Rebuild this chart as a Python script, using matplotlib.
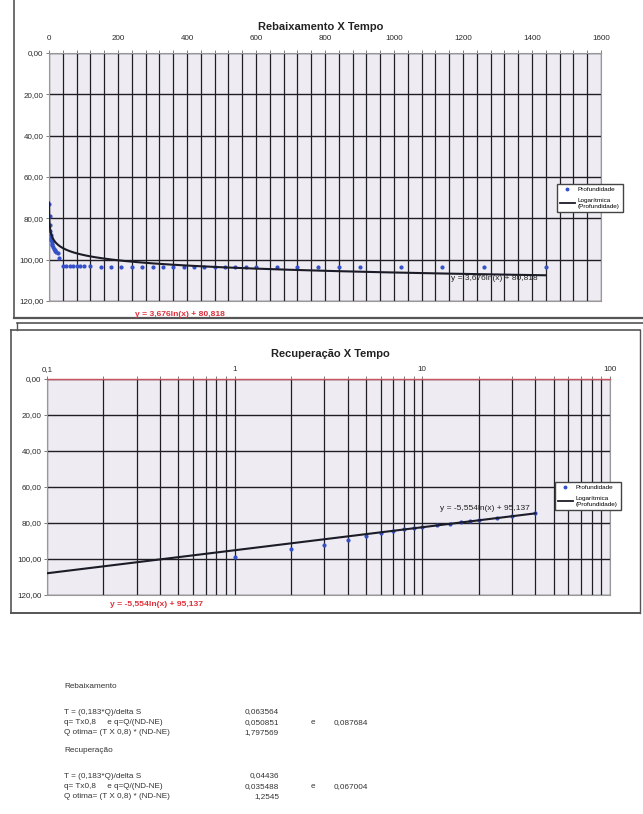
import numpy as np
import matplotlib
matplotlib.use("Agg")
import matplotlib.pyplot as plt
from matplotlib.lines import Line2D
from matplotlib.ticker import FixedLocator, FuncFormatter, NullFormatter

plt.rcParams['font.family'] = ['Liberation Sans', 'DejaVu Sans']

# ---------------- data ----------------
t_rebaixamento = [1, 2, 3, 4, 5, 6, 7, 8, 9, 10, 12, 14, 16, 18, 20, 25, 30,
                  40, 50, 60, 70, 80, 90, 100, 120, 150, 180, 210, 240, 270, 300,
                  330, 360, 390, 420, 450, 480, 510, 540, 570, 600, 660, 720,
                  780, 840, 900, 1020, 1140, 1260, 1440]
prof_rebaixamento = [73.0, 79.0, 83.0, 86.0, 88.0, 89.5, 90.5, 91.5, 92.5, 93.0,
                     94.0, 95.0, 95.5, 96.0, 96.5, 97.0, 99.0,
                     103.3, 103.3, 103.3, 103.3, 103.3, 103.3, 103.3, 103.3,
                     103.4, 103.4, 103.4, 103.4, 103.4, 103.4, 103.4, 103.4,
                     103.4, 103.4, 103.4, 103.4, 103.4, 103.4, 103.4, 103.4,
                     103.4, 103.4, 103.4, 103.4, 103.4, 103.4, 103.4, 103.4, 103.4]
trend_reb_a, trend_reb_b = 3.676, 80.818
trend_reb_xmin, trend_reb_xmax = 0.1, 1440

t_recuperacao = [1, 2, 3, 4, 5, 6, 7, 8, 9, 10, 12, 14, 16, 18, 20, 25, 30, 40]
prof_recuperacao = [99.0, 94.4, 92.2, 89.4, 87.2, 85.3, 84.4, 83.6, 82.9, 82.3,
                    81.3, 80.4, 79.7, 79.0, 78.5, 77.2, 76.2, 74.6]
trend_rec_a, trend_rec_b = -5.554, 95.137
trend_rec_xmin, trend_rec_xmax = 0.1, 40

reb_xticks = [0, 200, 400, 600, 800, 1000, 1200, 1400, 1600]
rec_xticks = [0.1, 1, 10, 100]
rec_xticklabels = ['0,1', '1', '10', '100']
yticks = [0, 20, 40, 60, 80, 100, 120]

W, H = 643, 814
fig = plt.figure(figsize=(W / 100, H / 100), dpi=100)
fig.patch.set_facecolor('white')


def fx(px):
    return px / W


def fy(py):
    return 1 - py / H


def comma(v, pos=None):
    return f"{v:.2f}".replace('.', ',')


GRID = '#1e1e24'
BG = '#eeecf2'
BLUE = '#3550c8'
TREND = '#1c1c28'
RED = '#e0303c'

# frames
for (x0, y0, x1, y1, lw) in [(14, 0, 14, 318, 1.2), (14, 318, 643, 318, 1.6),
                              (17, 323, 643, 323, 1.2), (17, 323, 17, 330, 1.0),
                              (11, 330, 640, 330, 1.2), (11, 330, 11, 613, 1.2),
                              (11, 613, 640, 613, 1.4), (640, 330, 640, 613, 1.0)]:
    fig.add_artist(Line2D([fx(x0), fx(x1)], [fy(y0), fy(y1)], color='#555555',
                          lw=lw, transform=fig.transFigure))

legend_kw = dict(loc='upper left', fontsize=4.6, frameon=True, fancybox=False,
                 edgecolor='#444444', framealpha=1, handlelength=2.3,
                 borderpad=0.45, labelspacing=0.9, handletextpad=0.5,
                 borderaxespad=0)
legend_labels = ['Profundidade', 'Logarítmica\n(Profundidade)']

# ---------------- top chart ----------------
ax1 = fig.add_axes([fx(49), fy(301), fx(601) - fx(49), (301 - 53) / H])
ax1.set_facecolor(BG)
ax1.set_xlim(0, 1600)
ax1.set_ylim(120, 0)
ax1.xaxis.tick_top()
ax1.xaxis.set_major_locator(FixedLocator(reb_xticks))
ax1.xaxis.set_minor_locator(FixedLocator(np.arange(0, 1601, 40)))
ax1.xaxis.set_minor_formatter(NullFormatter())
ax1.yaxis.set_major_locator(FixedLocator(yticks))
ax1.yaxis.set_major_formatter(FuncFormatter(comma))
ax1.grid(True, which='both', axis='x', color=GRID, lw=0.9)
ax1.grid(True, which='major', axis='y', color=GRID, lw=1.0)
ax1.tick_params(which='both', length=2, width=0.6, color='#666666',
                labelsize=5.8, pad=2, labelcolor='#2a2a2a')
ax1.tick_params(axis='x', which='major', pad=6)
for s in ax1.spines.values():
    s.set_color('#999999')
    s.set_linewidth(0.8)
ax1.set_axisbelow(True)
ax1.plot(t_rebaixamento, prof_rebaixamento, linestyle='none', marker='o',
         ms=2.0, color=BLUE, zorder=3)
xr = np.linspace(trend_reb_xmin, trend_reb_xmax, 2000)
ax1.plot(xr, trend_reb_a * np.log(xr) + trend_reb_b, color=TREND, lw=1.5, zorder=4)
fig.text(fx(321), fy(27), 'Rebaixamento X Tempo', ha='center', va='center',
         fontsize=8, fontweight='bold', color='#222222')
fig.text(fx(494), fy(279), 'y = 3,676ln(x) + 80,818', ha='center', va='center',
         fontsize=6, color='#222222')
fig.text(fx(180), fy(314), 'y = 3,676ln(x) + 80,818', ha='center', va='center',
         fontsize=6.1, color=RED, fontweight='bold')

h1 = [Line2D([], [], linestyle='none', marker='o', ms=1.8, color=BLUE),
      Line2D([], [], color=TREND, lw=1.3)]
fig.legend(h1, legend_labels, bbox_to_anchor=(fx(557), fy(184)), **legend_kw)

# ---------------- bottom chart ----------------
ax2 = fig.add_axes([fx(47), fy(595), fx(610) - fx(47), (595 - 379) / H])
ax2.set_facecolor(BG)
ax2.set_xscale('log')
ax2.set_xlim(0.1, 100)
ax2.set_ylim(120, 0)
ax2.xaxis.tick_top()
ax2.xaxis.set_major_locator(FixedLocator(rec_xticks))
ax2.set_xticklabels(rec_xticklabels)
minors = [m * d for d in (0.1, 1, 10) for m in range(2, 10)]
ax2.xaxis.set_minor_locator(FixedLocator(minors))
ax2.xaxis.set_minor_formatter(NullFormatter())
ax2.yaxis.set_major_locator(FixedLocator(yticks))
ax2.yaxis.set_major_formatter(FuncFormatter(comma))
ax2.grid(True, which='both', axis='x', color=GRID, lw=0.9)
ax2.grid(True, which='major', axis='y', color=GRID, lw=1.0)
ax2.tick_params(which='both', length=2, width=0.6, color='#666666',
                labelsize=5.8, pad=2, labelcolor='#2a2a2a')
for s in ax2.spines.values():
    s.set_color('#999999')
    s.set_linewidth(0.8)
ax2.spines['top'].set_color('#c85060')
ax2.spines['top'].set_linewidth(1.0)
ax2.set_axisbelow(True)
ax2.plot(t_recuperacao, prof_recuperacao, linestyle='none', marker='o',
         ms=2.0, color=BLUE, zorder=3)
xr2 = np.geomspace(trend_rec_xmin, trend_rec_xmax, 400)
ax2.plot(xr2, trend_rec_a * np.log(xr2) + trend_rec_b, color=TREND, lw=1.5, zorder=4)
fig.text(fx(330), fy(354), 'Recuperação X Tempo', ha='center', va='center',
         fontsize=8, fontweight='bold', color='#222222')
fig.text(fx(485), fy(509), 'y = -5,554ln(x) + 95,137', ha='center', va='center',
         fontsize=6, color='#222222')
fig.text(fx(157), fy(605), 'y = -5,554ln(x) + 95,137', ha='center', va='center',
         fontsize=6.1, color=RED, fontweight='bold')
fig.legend(h1, legend_labels, bbox_to_anchor=(fx(555), fy(482)), **legend_kw)

# ---------------- text block ----------------
TXT = '#333333'
fs = 5.9
fig.text(fx(64), fy(686), 'Rebaixamento', fontsize=fs, color=TXT, va='center')
rows1 = [('T = (0,183*Q)/delta S', '0,063564', '', ''),
         ('q= Tx0,8     e q=Q/(ND-NE)', '0,050851', 'e', '0,087684'),
         ('Q otima= (T X 0,8) * (ND-NE)', '1,797569', '', '')]
rows2 = [('T = (0,183*Q)/delta S', '0,04436', '', ''),
         ('q= Tx0,8     e q=Q/(ND-NE)', '0,035488', 'e', '0,067004'),
         ('Q otima= (T X 0,8) * (ND-NE)', '1,2545', '', '')]
for y0, rows in ((712, rows1), (776, rows2)):
    for i, (lab, v, e, v2) in enumerate(rows):
        yy = fy(y0 + i * 10.3)
        fig.text(fx(64), yy, lab, fontsize=fs, color=TXT, va='center')
        fig.text(fx(279), yy, v, fontsize=fs, color=TXT, va='center', ha='right')
        if e:
            fig.text(fx(311), yy, e, fontsize=fs, color=TXT, va='center')
            fig.text(fx(334), yy, v2, fontsize=fs, color=TXT, va='center')
fig.text(fx(64), fy(750), 'Recuperação', fontsize=fs, color=TXT, va='center')

fig.savefig('out.png', dpi=100, facecolor='white')
